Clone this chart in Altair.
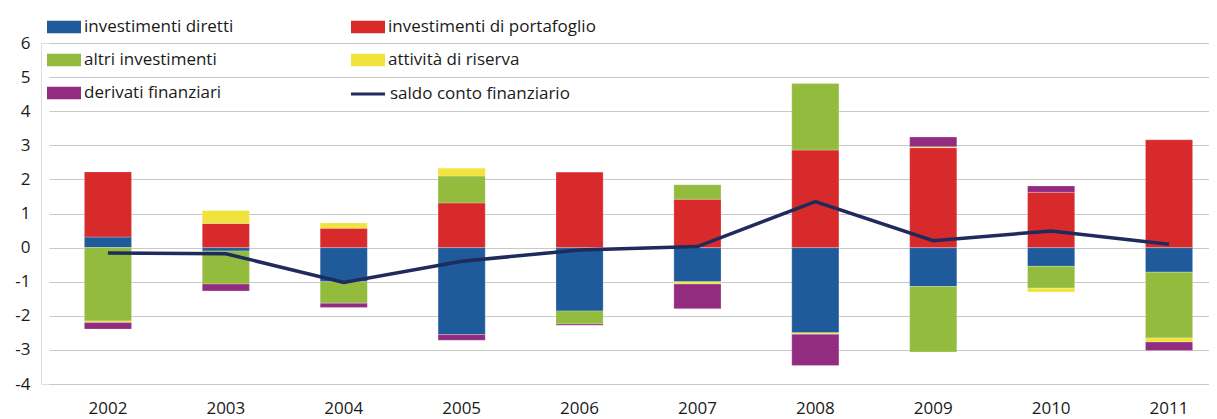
import altair as alt
import pandas as pd

years = ["2002", "2003", "2004", "2005", "2006", "2007", "2008", "2009", "2010", "2011"]
series_names = [
    "investimenti diretti",
    "investimenti di portafoglio",
    "altri investimenti",
    "attività di riserva",
    "derivati finanziari",
]
line_name = "saldo conto finanziario"

diretti = [0.31, -0.10, -1.00, -2.55, -1.86, -1.00, -2.50, -1.14, -0.55, -0.72]
portafoglio = [1.91, 0.71, 0.57, 1.31, 2.22, 1.42, 2.86, 2.93, 1.62, 3.16]
altri = [-2.15, -0.97, -0.63, 0.79, -0.38, 0.42, 1.95, -1.92, -0.64, -1.93]
riserva = [-0.05, 0.38, 0.15, 0.23, 0.0, -0.07, -0.04, 0.03, -0.11, -0.12]
derivati = [-0.19, -0.20, -0.13, -0.17, -0.04, -0.72, -0.92, 0.28, 0.19, -0.25]
saldo = [-0.16, -0.18, -1.02, -0.40, -0.07, 0.03, 1.35, 0.20, 0.49, 0.10]
y_ticks = [-4, -3, -2, -1, 0, 1, 2, 3, 4, 5, 6]

bar_colors = ["#1f5a9a", "#d82a2b", "#93bb3d", "#efe33c", "#922c80"]
line_color = "#1e2b5c"

rows = []
for k, (name, vals) in enumerate(zip(series_names, [diretti, portafoglio, altri, riserva, derivati])):
    for y, v in zip(years, vals):
        rows.append({"anno": y, "serie": name, "valore": v, "ord": k})
bars_df = pd.DataFrame(rows)
line_df = pd.DataFrame({"anno": years, "valore": saldo, "serie": [line_name] * len(years)})

FONT = "Open Sans"
TXT = "#1a1a1a"

x_axis = alt.Axis(title=None, labelAngle=0, domain=False, ticks=False, grid=False,
                  labelPadding=16, labelFontSize=17, labelFont=FONT, labelColor=TXT)
x_scale = alt.Scale(range=[8, 1187], paddingInner=0.6, paddingOuter=0.3)
y_scale = alt.Scale(domain=[-4, 6], nice=False, zero=False)
y_axis = alt.Axis(title=None, values=y_ticks, domain=False, ticks=False, labelOverlap=False,
                  gridColor="#c8c8c8", gridWidth=1.2, labelPadding=11,
                  labelExpr="'' + datum.value",
                  labelFontSize=17, labelFont=FONT, labelColor=TXT)

bar_legend = alt.Legend(
    title=None,
    orient="none",
    legendX=6,
    legendY=-33,
    columns=2,
    direction="horizontal",
    columnPadding=117,
    rowPadding=8,
    symbolSize=1156,
    symbolType="M-1,-0.37h2v0.74h-2z",
    symbolStrokeWidth=0,
    symbolOpacity=1,
    labelOffset=3,
    labelFontSize=17,
    labelFont=FONT,
    labelColor=TXT,
    labelLimit=400,
    padding=0,
)

line_legend = alt.Legend(
    title=None,
    orient="none",
    legendX=308,
    legendY=32,
    symbolSize=1156,
    symbolType="stroke",
    symbolStrokeWidth=3.2,
    labelOffset=3,
    labelFontSize=17,
    labelFont=FONT,
    labelColor=TXT,
    labelLimit=400,
    padding=0,
)

bars = alt.Chart(bars_df).mark_bar(stroke="white", strokeWidth=0.4, strokeOpacity=0.6).encode(
    x=alt.X("anno:N", sort=years, scale=x_scale, axis=x_axis),
    y=alt.Y("valore:Q", stack="zero", scale=y_scale, axis=y_axis),
    color=alt.Color("serie:N", scale=alt.Scale(domain=series_names, range=bar_colors), legend=bar_legend),
    order=alt.Order("ord:Q", sort="ascending"),
)

line = alt.Chart(line_df).mark_line(strokeWidth=3.5).encode(
    x=alt.X("anno:N", sort=years, scale=x_scale, axis=x_axis),
    y=alt.Y("valore:Q", scale=y_scale, axis=y_axis),
    stroke=alt.Stroke("serie:N", scale=alt.Scale(domain=[line_name], range=[line_color]), legend=line_legend),
)

chart = alt.layer(bars, line).properties(
    width=1168,
    height=341,
    autosize=alt.AutoSizeParams(type="none"),
    padding={"left": 33, "top": 35, "right": 0, "bottom": 35},
).configure_view(stroke=None).configure(background="white")

chart.save("out.html", embed_options={"renderer": "svg", "actions": False})
